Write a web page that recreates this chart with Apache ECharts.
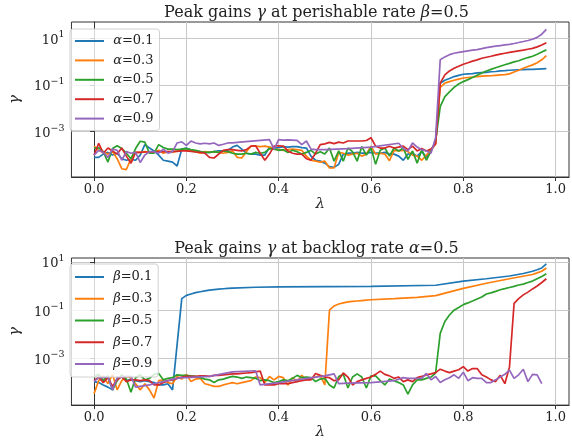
<!DOCTYPE html>
<html>
<head>
<meta charset="utf-8">
<script src="https://cdn.jsdelivr.net/npm/echarts@6/dist/echarts.min.js"></script>
<style>html,body{margin:0;padding:0;background:#fff;}#c{width:572px;height:441px;}</style>
</head>
<body>
<div id="c"></div>
<script>
const lam = [
0.00,0.01,0.02,0.03,0.04,0.05,0.06,0.07,0.08,0.09,
0.10,0.11,0.12,0.13,0.14,0.15,0.16,0.17,0.18,0.19,
0.20,0.21,0.22,0.23,0.24,0.25,0.26,0.27,0.28,0.29,
0.30,0.31,0.32,0.33,0.34,0.35,0.36,0.37,0.38,0.39,
0.40,0.41,0.42,0.43,0.44,0.45,0.46,0.47,0.48,0.49,
0.50,0.51,0.52,0.53,0.54,0.55,0.56,0.57,0.58,0.59,
0.60,0.61,0.62,0.63,0.64,0.65,0.66,0.67,0.68,0.69,
0.70,0.71,0.72,0.73,0.74,0.75,0.76,0.77,0.78,0.79,
0.80,0.81,0.82,0.83,0.84,0.85,0.86,0.87,0.88,0.89,
0.90,0.91,0.92,0.93,0.94,0.95,0.96,0.97,0.98];

const xTicks = [0, 0.2, 0.4, 0.6, 0.8, 1.0];
const yTicks = [1e-3, 1e-1, 10];

const topTitle = ['Peak gains ', 'γ', ' at perishable rate ', 'β', '=0.5'];
const botTitle = ['Peak gains ', 'γ', ' at backlog rate ', 'α', '=0.5'];
const topNames = ['α=0.1', 'α=0.3', 'α=0.5', 'α=0.7', 'α=0.9'];
const botNames = ['β=0.1', 'β=0.3', 'β=0.5', 'β=0.7', 'β=0.9'];

// top panel: beta = 0.5, varying alpha
const topA01 = [
8e-5,8e-5,1.1e-4,1.3e-4,1.0e-4,1.2e-4,7e-5,6e-5,6.5e-5,6e-5,
1.0e-4,2.8e-4,2.0e-4,1.5e-4,1.0e-4,6e-5,5.5e-5,5e-5,3.4e-5,1.8e-4,
2.0e-4,1.6e-4,1.4e-4,1.4e-4,1.3e-4,1.3e-4,1.4e-4,1.5e-4,1.5e-4,1.6e-4,
2.2e-4,2.6e-4,1.8e-4,1.2e-4,1.1e-4,1.1e-4,1.0e-4,1.0e-4,2.2e-4,2.0e-4,
2.1e-4,2.3e-4,2.2e-4,2.3e-4,2.3e-4,2.1e-4,2.0e-4,9e-5,6e-5,5.5e-5,
4.5e-5,3.2e-5,3.0e-5,4.0e-5,1.1e-4,1.2e-4,1.2e-4,1.3e-4,1.2e-4,1.2e-4,
1.3e-4,1.2e-4,1.2e-4,1.3e-4,1.1e-4,1.1e-4,9e-5,6e-5,1.1e-4,1.2e-4,
9e-5,1.4e-4,8e-5,1.5e-4,3.5e-4,0.12,0.16,0.19,0.23,0.26,
0.29,0.30,0.31,0.33,0.34,0.35,0.37,0.38,0.40,0.41,
0.43,0.44,0.45,0.46,0.47,0.47,0.48,0.49,0.50];
const topA03 = [
2.4e-4,1.6e-4,1.3e-4,1.1e-4,1.4e-4,7e-5,2.6e-5,2.4e-5,7e-5,1.3e-4,
1.3e-4,1.4e-4,1.3e-4,1.4e-4,1.6e-4,1.2e-4,1.4e-4,1.3e-4,1.5e-4,1.7e-4,
1.6e-4,1.5e-4,1.4e-4,1.2e-4,1.4e-4,1.3e-4,1.4e-4,1.3e-4,1.2e-4,1.3e-4,
1.5e-4,8e-5,7.5e-5,1.4e-4,2.4e-4,2.4e-4,2.3e-4,2.4e-4,2.2e-4,1.8e-4,
1.7e-4,1.6e-4,1.7e-4,1.8e-4,1.7e-4,1.6e-4,9e-5,6e-5,5.5e-5,5e-5,
5.5e-5,2.8e-5,2.8e-5,1.3e-4,1.2e-4,1.0e-4,1.1e-4,1.2e-4,9e-5,1.1e-4,
2.4e-4,1.1e-4,1.2e-4,1.1e-4,5.7e-5,1.6e-4,1.5e-4,1.6e-4,1.4e-4,1.0e-4,
9e-5,6e-5,1.0e-4,1.6e-4,3e-4,0.08,0.12,0.14,0.16,0.18,
0.20,0.21,0.22,0.23,0.24,0.245,0.25,0.26,0.27,0.28,
0.30,0.36,0.43,0.52,0.62,0.73,0.9,1.2,1.8];
const topA05 = [
2.0e-4,2.1e-4,1.4e-4,5e-5,1.9e-4,2.5e-4,1.9e-4,1.2e-4,7e-5,1.9e-4,
3.9e-4,3.6e-4,1.2e-4,1.2e-4,2.8e-4,2.1e-4,1.8e-4,1.8e-4,1.7e-4,1.8e-4,
1.9e-4,1.7e-4,1.6e-4,1.4e-4,1.3e-4,1.3e-4,1.4e-4,1.3e-4,1.5e-4,1.4e-4,
1.2e-4,1.1e-4,1.1e-4,1.2e-4,1.1e-4,1.3e-4,1.2e-4,1.3e-4,1.9e-4,1.8e-4,
1.6e-4,1.7e-4,1.3e-4,1.6e-4,1.4e-4,1.1e-4,1.3e-4,1.6e-4,1.1e-4,1.4e-4,
1.1e-4,2.0e-4,5.5e-5,1.5e-4,5.5e-5,2.0e-4,1.4e-4,5.5e-5,2.3e-4,1.0e-4,
2.0e-4,4e-5,1.6e-4,2.0e-4,9e-5,2.0e-4,1.5e-4,2.0e-4,6.5e-5,1.5e-4,
4.5e-5,1.7e-4,6e-5,1.5e-4,4e-4,0.012,0.032,0.051,0.079,0.11,
0.14,0.17,0.21,0.26,0.33,0.40,0.47,0.55,0.64,0.74,
0.85,0.98,1.1,1.3,1.5,1.7,2.1,2.6,3.2];
const topA07 = [
1.0e-4,3.2e-4,1.2e-4,2.0e-4,1.5e-4,1.1e-4,2.0e-4,9e-5,4.5e-5,1.3e-4,
1.3e-4,1.35e-4,1.35e-4,1.35e-4,1.4e-4,1.4e-4,1.4e-4,1.45e-4,1.45e-4,1.5e-4,
1.5e-4,1.45e-4,1.35e-4,1.3e-4,1.2e-4,8e-5,7.5e-5,1.1e-4,1.6e-4,1.7e-4,
1.7e-4,1.6e-4,1.5e-4,1.7e-4,2.4e-4,2.5e-4,1.2e-4,6e-5,1.1e-4,2.4e-4,
2.5e-4,2.4e-4,1.5e-4,1.2e-4,1.1e-4,1.1e-4,7e-5,6e-5,1.2e-4,2.8e-4,
3.0e-4,3.5e-4,3.1e-4,3.6e-4,3.3e-4,4.0e-4,4.0e-4,4.0e-4,4.0e-4,4.2e-4,
5.5e-4,2.4e-4,2.0e-4,2.0e-4,2.4e-4,2.0e-4,2.2e-4,2.4e-4,1.7e-4,2.4e-4,
1.5e-4,1.9e-4,1.5e-4,1.8e-4,3e-4,0.12,0.27,0.40,0.52,0.64,
0.78,0.9,1.05,1.2,1.4,1.55,1.7,1.9,2.1,2.3,
2.5,2.7,2.9,3.1,3.4,3.7,4.3,5.2,6.5];
const topA09 = [
1.0e-4,1.6e-4,1.3e-4,8e-5,1.8e-4,1.6e-4,6e-5,1.4e-4,1.2e-4,1.3e-4,
4.8e-5,1.0e-4,1.4e-4,1.4e-4,1.2e-4,1.8e-4,1.2e-4,1.4e-4,3.3e-4,3.7e-4,
2.6e-4,4.0e-4,3.3e-4,3.0e-4,3.2e-4,3.0e-4,3.3e-4,2.6e-4,2.9e-4,3.3e-4,
3.3e-4,3.5e-4,null,null,null,null,null,null,4.6e-4,1.8e-4,
4.6e-4,4.4e-4,4.5e-4,4.4e-4,4.3e-4,2.8e-4,4.0e-4,1.8e-4,1.7e-4,1.7e-4,
1.7e-4,null,null,null,null,1.9e-4,null,null,null,null,
2.2e-4,null,null,null,null,null,3.2e-4,1.9e-4,1.5e-4,3.3e-4,
2.2e-4,1.7e-4,1.5e-4,1.2e-4,5.5e-4,1.2,1.6,2.0,2.3,2.5,
2.7,2.9,3.1,3.3,3.6,4.0,4.3,4.6,4.9,5.2,
5.5,6.0,6.6,7.3,8.1,9.1,11,15,24];

// bottom panel: alpha = 0.5, varying beta
const botB01 = [
1.1e-4,1.0e-4,8e-5,6.5e-5,5e-5,1.5e-4,1.7e-4,1.2e-4,1.4e-4,1.2e-4,
1.1e-4,1.2e-4,1.1e-4,1.0e-4,8e-5,8e-5,9e-5,5e-5,null,0.30,
0.41,0.47,0.53,0.58,0.63,0.68,0.71,0.74,0.77,0.80,
0.82,null,null,null,null,0.89,null,null,null,null,
0.93,null,null,null,null,null,null,null,null,null,
0.95,null,null,null,null,null,null,null,null,null,
0.97,null,null,null,null,null,null,null,null,null,
null,null,null,null,1.08,null,null,null,null,null,
1.6,null,null,null,null,2.0,null,null,null,null,
2.6,null,null,3.3,null,4.1,4.7,5.6,8.3];
const botB03 = [
3.5e-5,1.2e-4,1.9e-4,9e-5,2.2e-4,5e-5,1.2e-4,1.8e-4,1.6e-4,9e-5,
5e-5,9e-5,5e-5,2.3e-5,1.2e-4,1.3e-4,1.0e-4,9e-5,1.8e-4,1.4e-4,
2.2e-4,1.1e-4,1.4e-4,1.5e-4,9e-5,8e-5,7e-5,7e-5,8e-5,9e-5,
1.0e-4,9e-5,1.0e-4,1.1e-4,1.2e-4,1.7e-4,1.6e-4,1.0e-4,1.8e-4,1.3e-4,
1.8e-4,1.6e-4,8e-5,1.6e-4,1.1e-4,2.0e-4,1.3e-4,1.5e-4,1.7e-4,2.0e-4,
8e-5,0.10,0.15,0.18,0.20,0.22,0.23,0.24,0.25,0.26,
0.27,null,null,null,null,0.30,null,null,null,null,
0.34,null,null,null,0.40,null,null,null,null,null,
0.8,null,null,null,null,1.3,null,null,null,null,
2.0,null,null,null,null,3.0,3.5,4.1,5.6];
const botB05 = [
1.7e-4,2.2e-4,1.2e-4,1.9e-4,5e-5,1.2e-4,2.1e-4,1.4e-4,4e-5,1.6e-4,
2.1e-4,1.3e-4,1.5e-4,2.2e-4,2.4e-4,1.3e-4,1.5e-4,1.6e-4,2.1e-4,2.0e-4,
2.0e-4,1.9e-4,1.8e-4,1.6e-4,1.4e-4,1.3e-4,1.0e-4,1.3e-4,1.4e-4,1.6e-4,
1.8e-4,1.7e-4,1.5e-4,1.7e-4,1.6e-4,1.5e-4,1.2e-4,1.3e-4,1.2e-4,1.0e-4,
1.1e-4,1.3e-4,1.2e-4,1.5e-4,2.0e-4,1.6e-4,1.7e-4,1.6e-4,1.1e-4,1.4e-4,
1.5e-4,8e-5,6e-5,1.8e-4,2.2e-4,6e-5,1.7e-4,2.3e-4,1.7e-4,6e-5,
1.9e-4,1.9e-4,1.2e-4,8e-5,1.4e-4,1.2e-4,1.0e-4,8e-5,3.3e-5,8e-5,
1.3e-4,1.3e-4,1.5e-4,1.7e-4,2.5e-4,0.011,0.034,0.063,0.10,0.13,
0.17,0.20,0.24,0.29,0.35,0.47,0.52,0.60,0.70,0.78,
0.87,0.97,1.1,1.2,1.4,1.6,2.0,2.5,3.2];
const botB07 = [
1.2e-4,1.7e-4,1.0e-4,1.6e-4,7e-5,1.3e-4,1.8e-4,1.1e-4,1.3e-4,1.3e-4,
1.2e-4,1.3e-4,1.2e-4,8e-5,8e-5,1.0e-4,1.2e-4,1.3e-4,1.5e-4,1.7e-4,
1.8e-4,1.8e-4,1.8e-4,1.9e-4,1.9e-4,1.8e-4,2.0e-4,2.0e-4,2.1e-4,2.2e-4,
2.3e-4,2.3e-4,2.4e-4,2.5e-4,2.6e-4,2.8e-4,3.0e-4,8e-5,8e-5,8e-5,
9e-5,9e-5,9e-5,1.0e-4,1.1e-4,1.2e-4,1.3e-4,1.3e-4,2.4e-4,2.0e-4,
1.7e-4,1.6e-4,1.2e-4,1.3e-4,2.5e-4,1.7e-4,8e-5,1.1e-4,1.3e-4,1.5e-4,
1.7e-4,2.2e-4,3.0e-4,2.2e-4,1.9e-4,1.5e-4,1.7e-4,1.1e-4,1.3e-4,1.1e-4,
1.6e-4,1.8e-4,2.1e-4,2.3e-4,2.6e-4,3.6e-4,3.0e-4,2.6e-4,3.0e-4,3.4e-4,
4.6e-4,3.0e-4,3.8e-4,3.8e-4,2.1e-4,1.7e-4,1.3e-4,1.1e-4,2.0e-4,9e-5,
4.3e-4,0.19,0.30,0.43,0.56,0.76,1.0,1.4,2.0];
const botB09 = [
1.1e-4,1.6e-4,1.6e-4,1.8e-4,5e-5,1.6e-4,1.7e-4,1.8e-4,1.8e-4,6.5e-5,
7e-5,7.5e-5,8e-5,9e-5,1.0e-4,1.1e-4,1.2e-4,1.4e-4,1.5e-4,1.6e-4,
1.6e-4,null,null,null,null,1.8e-4,null,null,null,null,
2.8e-4,null,null,null,null,3.1e-4,8e-5,null,null,null,
1.0e-4,null,null,null,null,1.4e-4,null,null,null,null,
1.9e-4,null,2.3e-4,9e-5,null,9.5e-5,null,null,null,null,
1.0e-4,null,null,null,null,1.2e-4,null,1.6e-4,1.5e-4,1.5e-4,
1.5e-4,1.5e-4,2.4e-4,1.3e-4,1.8e-4,1.0e-4,1.3e-4,1.6e-4,2.1e-4,1.5e-4,
2.7e-4,1.2e-4,1.6e-4,1.5e-4,1.5e-4,1.0e-4,1.0e-4,1.3e-4,1.7e-4,2.2e-4,
3.3e-4,1.5e-4,2.1e-4,3.6e-4,1.1e-4,2.2e-4,2.1e-4,9e-5,null];

const colors = ['#1f77b4', '#ff7f0e', '#2ca02c', '#d62728', '#9467bd'];
const FONT = 'DejaVu Serif';
const INK = '#222';

function pairs(ys) {
  const out = [];
  ys.forEach((v, i) => { if (v !== null && v !== undefined) out.push([lam[i], v]); });
  return out;
}
function titleRich(parts) {
  return parts.map((p, i) => (i % 2 === 1 ? '{g|' + p + '}' : '{n|' + p + '}')).join('');
}
const titleStyle = {
  fontFamily: FONT, fontSize: 16, color: INK, fontWeight: 'normal',
  rich: {
    n: { fontFamily: FONT, fontSize: 16, color: INK, fontWeight: 'normal' },
    g: { fontFamily: FONT, fontSize: 16, color: INK, fontWeight: 'normal', fontStyle: 'italic' }
  }
};
function expLabel(v) {
  const e = Math.round(Math.log10(v));
  return '{b|10}{e|' + (e < 0 ? '\u2212' + (-e) : String(e)) + '}';
}
function xAxisCfg(gi) {
  return {
    type: 'value', gridIndex: gi, min: -0.049, max: 1.029,
    name: 'λ', nameLocation: 'middle', nameGap: 19,
    nameTextStyle: { fontFamily: FONT, fontSize: 15, fontStyle: 'italic', color: INK },
    axisLine: { show: true, lineStyle: { color: '#333', width: 1 } },
    axisTick: { show: true, length: 4, lineStyle: { color: '#333' }, customValues: xTicks },
    axisLabel: { fontFamily: FONT, fontSize: 13, color: INK, margin: 6, customValues: xTicks,
      formatter: v => v.toFixed(1) },
    splitLine: { show: true, lineStyle: { color: '#c8c8c8', width: 1 } },
    minorTick: { show: false }
  };
}
function yAxisCfg(gi, mn, mx) {
  return {
    type: 'log', logBase: 10, gridIndex: gi, min: mn, max: mx,
    name: 'γ', nameLocation: 'middle', nameGap: 46, nameRotate: 90,
    nameTextStyle: { fontFamily: FONT, fontSize: 15, fontStyle: 'italic', color: INK },
    axisLine: { show: true, lineStyle: { color: '#333', width: 1 } },
    axisTick: { show: true, length: 4, lineStyle: { color: '#333' }, customValues: yTicks },
    axisLabel: { color: INK, margin: 7, customValues: yTicks, formatter: expLabel,
      rich: {
        b: { fontFamily: FONT, fontSize: 13, color: INK, verticalAlign: 'bottom' },
        e: { fontFamily: FONT, fontSize: 9.5, color: INK, verticalAlign: 'bottom', padding: [0, 0, 7, 0] }
      } },
    splitLine: { show: true, lineStyle: { color: '#c8c8c8', width: 1 } },
    minorTick: { show: false }, minorSplitLine: { show: false }
  };
}
function legendCfg(names, top, gap, pad) {
  return {
    data: names, orient: 'vertical', left: 70, top: top, itemGap: gap,
    icon: 'rect', itemWidth: 29, itemHeight: 2, padding: pad,
    backgroundColor: 'rgba(255,255,255,0.8)', borderColor: '#d0d0d0', borderWidth: 1, borderRadius: 3,
    formatter: n => '{t|\u00a0}{g|' + n[0] + '}{t|' + n.slice(1) + '}',
    textStyle: { fontFamily: FONT, fontSize: 13, color: INK, lineHeight: 14,
      rich: {
        t: { fontFamily: FONT, fontSize: 13, color: INK, lineHeight: 14 },
        g: { fontFamily: FONT, fontSize: 13, color: INK, lineHeight: 14, fontStyle: 'italic' }
      } }
  };
}
function lineSeries(name, ys, gi, ci) {
  return {
    type: 'line', name: name, xAxisIndex: gi, yAxisIndex: gi, data: pairs(ys),
    symbol: 'none', showSymbol: false, smooth: false,
    lineStyle: { color: colors[ci], width: 1.7 }, itemStyle: { color: colors[ci] },
    emphasis: { disabled: true }
  };
}

const topData = [topA01, topA03, topA05, topA07, topA09];
const botData = [botB01, botB03, botB05, botB07, botB09];

const series = [];
topNames.forEach((n, i) => series.push(lineSeries(n, topData[i], 0, i)));
botNames.forEach((n, i) => series.push(lineSeries(n, botData[i], 1, i)));

const chart = echarts.init(document.getElementById('c'), null, { renderer: 'canvas' });
chart.setOption({
  animation: false,
  backgroundColor: '#fff',
  title: [
    { text: titleRich(topTitle), left: 316.5, top: 5, textAlign: 'center', padding: 0, textStyle: titleStyle },
    { text: titleRich(botTitle), left: 316.5, top: 241, textAlign: 'center', padding: 0, textStyle: titleStyle }
  ],
  legend: [
    legendCfg(topNames, 29, 5.4, [5, 6, 5, 5]),
    legendCfg(botNames, 264, 7.75, [6, 6, 6, 5])
  ],
  grid: [
    { left: 64, top: 22, width: 505, height: 155, show: true, borderColor: '#333', borderWidth: 1, backgroundColor: '#fff' },
    { left: 64, top: 258, width: 505, height: 151, show: true, borderColor: '#333', borderWidth: 1, backgroundColor: '#fff' }
  ],
  xAxis: [xAxisCfg(0), xAxisCfg(1)],
  yAxis: [yAxisCfg(0, 1.15e-5, 50), yAxisCfg(1, 1.17e-5, 14.5)],
  series: series
});
</script>
</body>
</html>
